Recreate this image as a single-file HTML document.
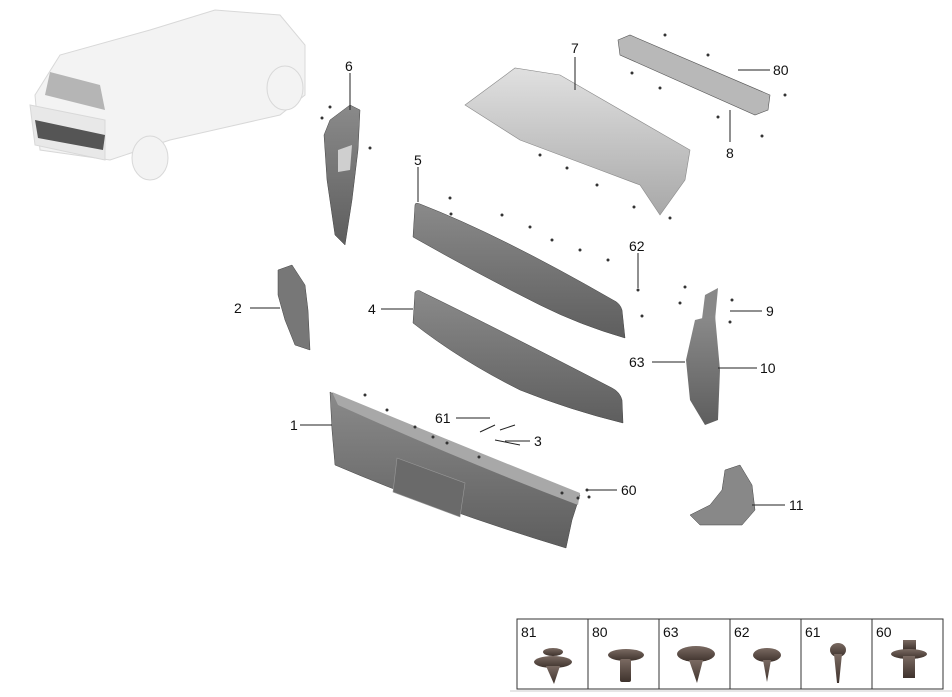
<!DOCTYPE html>
<html><head><meta charset="utf-8"><style>
body{margin:0;background:#fff}
svg{display:block}
text{font-family:"Liberation Sans",sans-serif;font-size:14px;fill:#111}
.l{stroke:#222;stroke-width:1;fill:none}
</style></head><body>
<svg width="952" height="697" viewBox="0 0 952 697">
<defs>
<linearGradient id="g1" x1="0" y1="0" x2="0" y2="1"><stop offset="0" stop-color="#8a8a8a"/><stop offset="1" stop-color="#5e5e5e"/></linearGradient>
<linearGradient id="g2" x1="0" y1="0" x2="0" y2="1"><stop offset="0" stop-color="#e0e0e0"/><stop offset="1" stop-color="#a8a8a8"/></linearGradient>
<linearGradient id="gb" x1="0" y1="0" x2="0" y2="1"><stop offset="0" stop-color="#7a6a62"/><stop offset="1" stop-color="#3e322c"/></linearGradient>
</defs>
<!-- car -->
<g fill="#f3f3f3" stroke="#d8d8d8">
<path d="M35 95 L60 55 L150 30 L215 10 L280 15 L305 45 L305 95 L280 115 L170 140 L110 160 L40 150 Z"/>
<path d="M30 105 L105 120 L105 160 L35 145 Z" fill="#e8e8e8"/>
<ellipse cx="150" cy="158" rx="18" ry="22"/>
<ellipse cx="285" cy="88" rx="18" ry="22"/>
</g>
<path d="M50 72 L100 85 L105 110 L45 95 Z" fill="#b5b5b5"/>
<path d="M35 120 L105 135 L103 150 L38 138 Z" fill="#555"/>
<!-- part 6 -->
<path d="M330 120 L350 105 L360 110 L358 150 L352 200 L345 245 L335 235 L327 180 L324 135 Z" fill="url(#g1)" stroke="#444" stroke-width=".5"/>
<path d="M338 150 L352 145 L350 170 L338 172 Z" fill="#cfcfcf"/>
<!-- part 7 spoiler -->
<path d="M465 105 L515 68 L560 75 L690 150 L685 180 L660 215 L640 185 L600 170 L520 140 Z" fill="url(#g2)" stroke="#888" stroke-width=".6"/>
<!-- part 8 -->
<path d="M618 40 L630 35 L770 95 L768 110 L755 115 L620 55 Z" fill="#b8b8b8" stroke="#555" stroke-width=".6"/>
<!-- part 5 -->
<path d="M415 205 Q415 202 420 204 Q500 235 613 300 Q620 303 622 310 L625 338 Q580 325 540 305 Q480 275 413 237 Z" fill="url(#g1)" stroke="#444" stroke-width=".5"/>
<!-- part 4 -->
<path d="M415 292 Q418 289 422 292 Q500 330 612 388 Q620 392 622 400 L623 423 Q570 410 520 390 Q460 360 413 323 Z" fill="url(#g1)" stroke="#444" stroke-width=".5"/>
<!-- part 1 bumper -->
<path d="M330 392 L340 398 Q460 450 580 495 L572 520 L566 548 Q440 510 335 465 L332 430 Z" fill="url(#g1)" stroke="#444" stroke-width=".5"/>
<path d="M332 392 Q460 445 580 493 L578 505 Q460 460 338 405 Z" fill="#a8a8a8"/>
<path d="M397 458 L465 483 L460 517 L393 492 Z" fill="#6a6a6a" stroke="#999" stroke-width=".6"/>
<!-- part 2 -->
<path d="M278 270 L292 265 L305 285 L308 310 L310 350 L295 345 L285 320 L278 295 Z" fill="#777" stroke="#444" stroke-width=".5"/>
<!-- part 9/10 -->
<path d="M705 295 L718 288 L715 320 L712 340 L700 335 Z" fill="#888"/>
<path d="M695 320 L715 315 L720 370 L718 420 L705 425 L690 400 L686 360 Z" fill="url(#g1)"/>
<!-- part 11 -->
<path d="M725 470 L740 465 L752 485 L755 510 L742 525 L700 525 L690 515 L710 505 L722 490 Z" fill="#888" stroke="#444" stroke-width=".5"/>
<!-- part 3 -->
<path d="M480 432 L495 425 M500 430 L515 425 M495 440 L520 445" class="l" stroke="#777"/>
<!-- leader lines -->
<g class="l">
<path d="M350 73 V110"/><path d="M575 57 V90"/><path d="M738 70 H770"/><path d="M730 110 V142"/>
<path d="M418 167 V202"/><path d="M638 253 V288"/><path d="M250 308 H280"/><path d="M381 309 H413"/>
<path d="M730 311 H762"/><path d="M652 362 L685 362"/><path d="M718 368 H757"/><path d="M300 425 H332"/>
<path d="M456 418 H490"/><path d="M505 441 H530"/><path d="M588 490 H617"/><path d="M752 505 H785"/>
</g>
<!-- small screws -->
<g fill="#333">
<circle cx="330" cy="107" r="1.5"/><circle cx="322" cy="118" r="1.5"/><circle cx="370" cy="148" r="1.5"/>
<circle cx="450" cy="198" r="1.5"/><circle cx="451" cy="214" r="1.5"/><circle cx="502" cy="215" r="1.5"/><circle cx="530" cy="227" r="1.5"/>
<circle cx="552" cy="240" r="1.5"/><circle cx="580" cy="250" r="1.5"/><circle cx="608" cy="260" r="1.5"/><circle cx="638" cy="290" r="1.5"/><circle cx="642" cy="316" r="1.5"/>
<circle cx="365" cy="395" r="1.5"/><circle cx="387" cy="410" r="1.5"/><circle cx="415" cy="427" r="1.5"/><circle cx="433" cy="437" r="1.5"/><circle cx="447" cy="443" r="1.5"/><circle cx="479" cy="457" r="1.5"/>
<circle cx="562" cy="493" r="1.5"/><circle cx="587" cy="490" r="1.5"/><circle cx="578" cy="498" r="1.5"/><circle cx="589" cy="497" r="1.5"/>
<circle cx="540" cy="155" r="1.5"/><circle cx="567" cy="168" r="1.5"/><circle cx="597" cy="185" r="1.5"/><circle cx="634" cy="207" r="1.5"/><circle cx="670" cy="218" r="1.5"/>
<circle cx="665" cy="35" r="1.5"/><circle cx="708" cy="55" r="1.5"/><circle cx="785" cy="95" r="1.5"/><circle cx="632" cy="73" r="1.5"/><circle cx="660" cy="88" r="1.5"/><circle cx="718" cy="117" r="1.5"/><circle cx="762" cy="136" r="1.5"/>
<circle cx="685" cy="287" r="1.5"/><circle cx="680" cy="303" r="1.5"/><circle cx="732" cy="300" r="1.5"/><circle cx="730" cy="322" r="1.5"/>
</g>
<!-- labels -->
<text x="345" y="71">6</text><text x="571" y="53">7</text><text x="773" y="75">80</text><text x="726" y="158">8</text>
<text x="414" y="165">5</text><text x="629" y="251">62</text><text x="234" y="313">2</text><text x="368" y="314">4</text>
<text x="766" y="316">9</text><text x="629" y="367">63</text><text x="760" y="373">10</text><text x="290" y="430">1</text>
<text x="435" y="423">61</text><text x="534" y="446">3</text><text x="621" y="495">60</text><text x="789" y="510">11</text>
<!-- fastener table -->
<g stroke="#333" fill="none" stroke-width="1">
<rect x="517" y="619" width="426" height="70"/>
<path d="M588 619V689M659 619V689M730 619V689M801 619V689M872 619V689"/>
</g>
<line x1="510" y1="691" x2="952" y2="691" stroke="#ccc"/>
<g font-size="15"><text x="521" y="637">81</text><text x="592" y="637">80</text><text x="663" y="637">63</text><text x="734" y="637">62</text><text x="805" y="637">61</text><text x="876" y="637">60</text></g>
<g fill="url(#gb)">
<ellipse cx="553" cy="662" rx="19" ry="6"/><ellipse cx="553" cy="652" rx="10" ry="4"/><path d="M546 666 L560 666 L554 684 Z"/>
<ellipse cx="626" cy="655" rx="18" ry="6"/><rect x="620" y="659" width="11" ry="2" height="23"/>
<ellipse cx="696" cy="654" rx="19" ry="8"/><path d="M689 660 L703 660 L697 683 Z"/>
<ellipse cx="767" cy="655" rx="14" ry="7"/><path d="M763 660 L771 660 L767 682 Z"/>
<ellipse cx="838" cy="650" rx="8" ry="7"/><path d="M834 654 L842 654 L839 683 L837 683 Z"/>
<rect x="903" y="640" width="13" height="10"/><ellipse cx="909" cy="654" rx="18" ry="5"/><rect x="903" y="656" width="12" height="22"/>
</g>
</svg>
</body></html>
